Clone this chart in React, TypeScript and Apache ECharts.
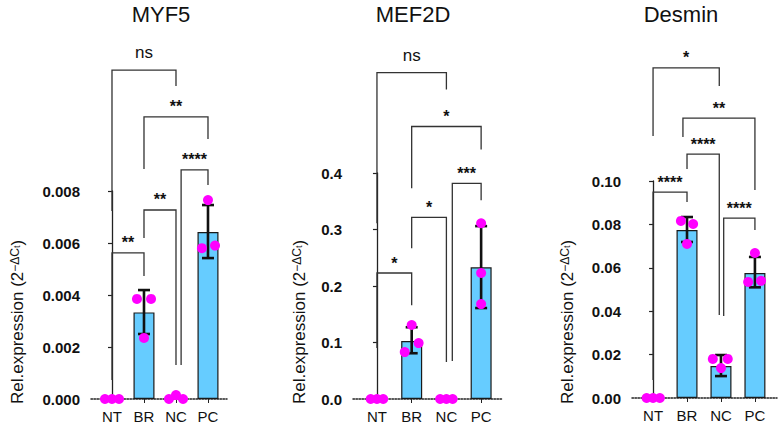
import React, { useEffect, useRef } from 'react';
import * as echarts from 'echarts';

const categories = ['NT', 'BR', 'NC', 'PC'];
const titles = ['MYF5', 'MEF2D', 'Desmin'];

// Bar means per panel
const myf5Means = [0, 0.00333, 0.00005, 0.00642];
const mef2dMeans = [0, 0.1025, 0, 0.233];
const desminMeans = [0, 0.0774, 0.0147, 0.0576];

// Error bars: [categoryIndex, low, high]
const myf5Err = [[1, 0.0025, 0.00419], [3, 0.00542, 0.00746]];
const mef2dErr = [[1, 0.081, 0.127], [3, 0.161, 0.306]];
const desminErr = [[1, 0.0719, 0.0834], [2, 0.0101, 0.0198], [3, 0.051, 0.065]];

// Replicate points (values per category)
const myf5Points = [[0, 0, 0], [0.00385, 0.00385, 0.00235], [0, 0.00015, 0], [0.00765, 0.0058, 0.0059]];
const mef2dPoints = [[0, 0, 0], [0.131, 0.099, 0.083], [0, 0, 0], [0.311, 0.223, 0.168]];
const desminPoints = [[0, 0, 0], [0.0816, 0.0802, 0.071], [0.018, 0.018, 0.0138], [0.0668, 0.0535, 0.054]];

// Horizontal jitter of replicate points (in category units)
const myf5Jitter = [[-0.22, 0, 0.22], [-0.22, 0.22, 0], [-0.22, 0, 0.22], [0, -0.19, 0.22]];
const mef2dJitter = [[-0.18, 0, 0.18], [0, 0.2, -0.2], [-0.18, 0, 0.18], [0, 0, 0]];
const desminJitter = [[-0.19, 0, 0.2], [-0.18, 0.18, 0], [-0.24, 0.2, 0], [0, -0.2, 0.18]];

// Significance brackets: [x1, x2, leftLegEnd, rightLegEnd, top]
const myf5Brackets = [
  [0, 1, 0.00073, 0.00473, 0.00562],
  [1, 2, 0.00619, 0.00131, 0.00727],
  [2.16, 3, 0.00131, 0.00823, 0.00881],
  [1, 3, 0.00885, 0.0100, 0.01085],
  [0, 2, 0.00723, 0.01204, 0.01265],
];
const myf5Labels = ['**', '**', '****', '**', 'ns'];
const mef2dBrackets = [
  [0, 1, 0.0901, 0.1661, 0.223],
  [1, 2, 0.2668, 0.0657, 0.3216],
  [2.17, 3, 0.0671, 0.3516, 0.3816],
  [1, 3, 0.3728, 0.4417, 0.4823],
  [0, 2, 0.311, 0.5477, 0.5777],
];
const mef2dLabels = ['*', '*', '***', '*', 'ns'];
const desminBrackets = [
  [0, 1, 0.0083, 0.0903, 0.0949],
  [1, 1.95, 0.1055, 0.0382, 0.1124],
  [2.08, 3, 0.0378, 0.0774, 0.0829],
  [0.88, 3, 0.1203, 0.0959, 0.129],
  [0, 1.95, 0.1207, 0.1438, 0.1521],
];
const desminLabels = ['****', '****', '****', '**', '*'];

const yMaxes = [0.008, 0.4, 0.1];
const yIntervals = [0.002, 0.1, 0.02];
const yDecimals = [3, 1, 2];

const FONT = '"Liberation Sans", Arial, Helvetica, sans-serif';

const layout = [
  { left: 91, right: 554, top: 191, bottom: 29, xMin: -0.656, xMax: 3.594, titleX: 161, nameX: 17 },
  { left: 353, right: 278, top: 173, bottom: 29, xMin: -0.69, xMax: 3.63, titleX: 413, nameX: 299 },
  { left: 632, right: 4, top: 181, bottom: 30, xMin: -0.62, xMax: 3.65, titleX: 681, nameX: 567 },
];

const meansAll = [myf5Means, mef2dMeans, desminMeans];
const errAll = [myf5Err, mef2dErr, desminErr];
const pointsAll = [myf5Points, mef2dPoints, desminPoints];
const jitterAll = [myf5Jitter, mef2dJitter, desminJitter];
const bracketsAll = [myf5Brackets, mef2dBrackets, desminBrackets];
const labelsAll = [myf5Labels, mef2dLabels, desminLabels];

function buildOption() {
  const grid: any[] = [];
  const xAxis: any[] = [];
  const yAxis: any[] = [];
  const series: any[] = [];
  const graphic: any[] = [];

  layout.forEach((L, i) => {
    grid.push({ left: L.left, right: L.right, top: L.top, bottom: L.bottom, containLabel: false });
    xAxis.push({
      type: 'value',
      gridIndex: i,
      min: L.xMin,
      max: L.xMax,
      splitLine: { show: false },
      axisLine: { show: true, lineStyle: { color: '#222', width: 1.5, type: [1.5, 1.5] } },
      axisTick: { show: true, length: 4, customValues: [0, 1, 2, 3], lineStyle: { color: '#222', width: 1 } },
      axisLabel: {
        customValues: [0, 1, 2, 3],
        formatter: (v: number) => categories[Math.round(v)] ?? '',
        fontSize: 15,
        color: '#111',
        fontFamily: FONT,
        margin: 10,
      },
    });
    const dec = yDecimals[i];
    yAxis.push({
      type: 'value',
      gridIndex: i,
      min: 0,
      max: yMaxes[i],
      interval: yIntervals[i],
      splitLine: { show: false },
      axisLine: { show: true, lineStyle: { color: '#222', width: 1.3 } },
      axisTick: { show: true, length: 4, lineStyle: { color: '#222', width: 1.2 } },
      axisLabel: {
        formatter: (v: number) => v.toFixed(dec),
        fontSize: 15,
        fontWeight: 'bold',
        color: '#111',
        fontFamily: FONT,
        margin: 11,
      },
    });

    series.push({
      type: 'bar',
      xAxisIndex: i,
      yAxisIndex: i,
      barWidth: 21,
      data: meansAll[i].map((m, k) => [k, m]),
      itemStyle: { color: '#66ccff', borderColor: '#1a1a1a', borderWidth: 1.2 },
      z: 2,
    });

    series.push({
      type: 'custom',
      xAxisIndex: i,
      yAxisIndex: i,
      z: 3,
      data: errAll[i],
      renderItem: (params: any, api: any) => {
        const x = api.value(0);
        const lo = api.coord([x, api.value(1)]);
        const hi = api.coord([x, api.value(2)]);
        const cap = 6;
        const st = { stroke: '#111', lineWidth: 2.6 };
        return {
          type: 'group',
          children: [
            { type: 'line', shape: { x1: lo[0], y1: lo[1], x2: hi[0], y2: hi[1] }, style: st },
            { type: 'line', shape: { x1: lo[0] - cap, y1: lo[1], x2: lo[0] + cap, y2: lo[1] }, style: st },
            { type: 'line', shape: { x1: hi[0] - cap, y1: hi[1], x2: hi[0] + cap, y2: hi[1] }, style: st },
          ],
        };
      },
    });

    const pts: number[][] = [];
    pointsAll[i].forEach((vals, k) => {
      vals.forEach((v, j) => pts.push([k + jitterAll[i][k][j], v]));
    });
    series.push({
      type: 'scatter',
      xAxisIndex: i,
      yAxisIndex: i,
      data: pts,
      symbolSize: 10,
      itemStyle: { color: '#ff00ff', opacity: 1 },
      z: 5,
    });

    const labels = labelsAll[i];
    series.push({
      type: 'custom',
      xAxisIndex: i,
      yAxisIndex: i,
      z: 4,
      clip: false,
      data: bracketsAll[i],
      renderItem: (params: any, api: any) => {
        const x1 = api.value(0);
        const x2 = api.value(1);
        const pL = api.coord([x1, api.value(2)]);
        const pR = api.coord([x2, api.value(3)]);
        const tL = api.coord([x1, api.value(4)]);
        const tR = api.coord([x2, api.value(4)]);
        const label = labels[params.dataIndex];
        const isNs = label === 'ns';
        return {
          type: 'group',
          children: [
            {
              type: 'polyline',
              shape: { points: [[pL[0], pL[1]], [tL[0], tL[1]], [tR[0], tR[1]], [pR[0], pR[1]]] },
              style: { stroke: '#333', lineWidth: 1.3, fill: 'none' },
            },
            {
              type: 'text',
              x: (tL[0] + tR[0]) / 2,
              y: tL[1] - (isNs ? 9 : 2),
              style: {
                text: label,
                fill: '#111',
                fontSize: isNs ? 17 : 16,
                fontWeight: isNs ? 'normal' : 'bold',
                fontFamily: FONT,
                align: 'center',
                verticalAlign: 'bottom',
                textAlign: 'center',
                textVerticalAlign: 'bottom',
              },
            },
          ],
        };
      },
    });

    graphic.push({
      type: 'text',
      x: L.titleX,
      y: 14,
      style: {
        text: titles[i],
        fill: '#111',
        fontSize: 22,
        fontFamily: FONT,
        align: 'center',
        verticalAlign: 'middle',
        textAlign: 'center',
        textVerticalAlign: 'middle',
      },
    });
    graphic.push({
      type: 'text',
      x: L.nameX,
      y: 404,
      rotation: Math.PI / 2,
      style: {
        text: '{a|Rel.expression (2}{b|−ΔC}{c|t}{a|)}',
        fill: '#111',
        fontSize: 17,
        fontFamily: FONT,
        align: 'left',
        verticalAlign: 'middle',
        textAlign: 'left',
        textVerticalAlign: 'middle',
        rich: {
          a: { fontSize: 17, fontFamily: FONT, fill: '#111' },
          b: { fontSize: 12, fontFamily: FONT, fill: '#111', verticalAlign: 'top' },
          c: { fontSize: 9, fontFamily: FONT, fill: '#111', verticalAlign: 'top', padding: [4, 0, 0, 0] },
        },
      },
    });
  });

  return {
    animation: false,
    backgroundColor: '#ffffff',
    grid,
    xAxis,
    yAxis,
    series,
    graphic,
  };
}

export default function App() {
  const ref = useRef<HTMLDivElement>(null);
  useEffect(() => {
    if (!ref.current) return;
    const chart = echarts.init(ref.current, null, { renderer: 'svg' });
    chart.setOption(buildOption() as any);
    return () => chart.dispose();
  }, []);
  return (
    <div
      ref={ref}
      style={{ position: 'absolute', left: 0, top: 0, width: 781, height: 428 }}
    />
  );
}
